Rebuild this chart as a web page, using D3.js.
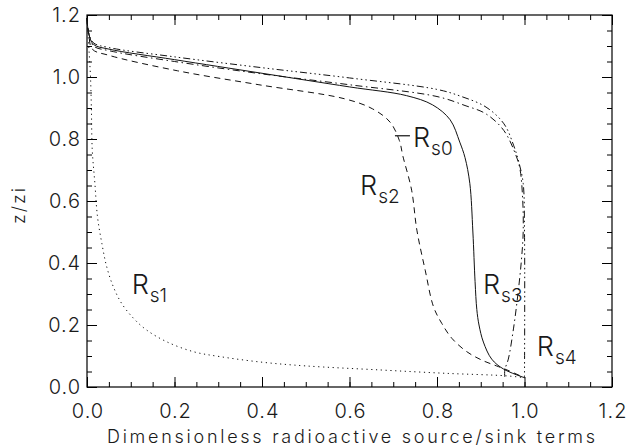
<!DOCTYPE html>
<html><head><meta charset="utf-8">
<script src="https://cdn.jsdelivr.net/npm/d3@7"></script>
<style>
html,body{margin:0;padding:0;background:#fff;}
svg{display:block;}
text{font-family:Inter,"DejaVu Sans",sans-serif;font-weight:300;fill:#1a1a1a;}
</style></head>
<body>
<svg id="chart" width="630" height="448"></svg>
<script>
// ---------- data ----------
const xMajor = [0, 0.2, 0.4, 0.6, 0.8, 1.0, 1.2];
const yMajor = [0, 0.2, 0.4, 0.6, 0.8, 1.0, 1.2];
const xMinor = d3.range(0, 1.2001, 0.05);
const yMinor = d3.range(0, 1.2001, 0.05);
const tickLabels = ["0.0", "0.2", "0.4", "0.6", "0.8", "1.0", "1.2"];
const xTitle = "Dimensionless radioactive source/sink terms";
const yTitle = "z/zi";

// Rs0 (solid)
const rs0X = [0, 0.004, 0.015, 0.05, 0.2, 0.4, 0.6, 0.73, 0.79, 0.83, 0.852, 0.864, 0.875, 0.882, 0.887, 0.891, 0.896, 0.906, 0.925, 0.952, 1.0];
const rs0Z = [1.19, 1.14, 1.105, 1.09, 1.056, 1.012, 0.968, 0.94, 0.91, 0.862, 0.79, 0.74, 0.657, 0.5, 0.34, 0.25, 0.2, 0.145, 0.09, 0.058, 0.03];
// Rs1 (dotted)
const rs1X = [0, 0.004, 0.008, 0.01, 0.012, 0.018, 0.024, 0.034, 0.045, 0.06, 0.079, 0.106, 0.136, 0.182, 0.243, 0.304, 0.4, 0.5, 0.67, 0.822, 0.959, 1.0];
const rs1Z = [1.19, 1.1, 1.0, 0.9, 0.765, 0.657, 0.549, 0.463, 0.388, 0.324, 0.27, 0.222, 0.184, 0.146, 0.114, 0.098, 0.08, 0.068, 0.055, 0.044, 0.036, 0.03];
// Rs2 (dashed)
const rs2X = [0, 0.004, 0.012, 0.05, 0.207, 0.393, 0.588, 0.653, 0.693, 0.714, 0.722, 0.742, 0.754, 0.773, 0.792, 0.811, 0.834, 0.868, 0.902, 0.936, 0.955, 1.0];
const rs2Z = [1.19, 1.14, 1.09, 1.07, 1.02, 0.975, 0.93, 0.897, 0.854, 0.795, 0.745, 0.635, 0.506, 0.377, 0.259, 0.205, 0.157, 0.114, 0.087, 0.068, 0.058, 0.03];
// Rs3 (dash-dot)
const rs3X = [0, 0.004, 0.015, 0.05, 0.2, 0.4, 0.6, 0.8, 0.864, 0.912, 0.953, 0.981, 0.99, 0.996, 0.997, 0.993, 0.985, 0.975, 0.963, 0.955, 0.955];
const rs3Z = [1.19, 1.14, 1.1, 1.085, 1.05, 1.01, 0.975, 0.937, 0.908, 0.881, 0.827, 0.745, 0.7, 0.6, 0.5, 0.41, 0.3, 0.19, 0.09, 0.055, 0.03];
// Rs4 (dash-triple-dot)
const rs4X = [0, 0.004, 0.015, 0.05, 0.2, 0.4, 0.6, 0.8, 0.856, 0.912, 0.953, 0.975, 0.988, 0.997, 1.0, 1.0];
const rs4Z = [1.19, 1.14, 1.11, 1.095, 1.065, 1.03, 0.997, 0.96, 0.937, 0.903, 0.849, 0.78, 0.72, 0.657, 0.5, 0.03];

const seriesNames = ["Rs0", "Rs1", "Rs2", "Rs3", "Rs4"];
const seriesX = [rs0X, rs1X, rs2X, rs3X, rs4X];
const seriesZ = [rs0Z, rs1Z, rs2Z, rs3Z, rs4Z];
const dashes = [null, "1.2,3.6", "6,4.5", "7,3.5,1.5,3.5", "7,3,1.5,3,1.5,3,1.5,3"];

// label anchors in data coords (start of "R", baseline)
const labelSub = ["s0", "s1", "s2", "s3", "s4"];
const labelX = [0.745, 0.102, 0.624, 0.905, 1.028];
const labelZ = [0.775, 0.3, 0.619, 0.3, 0.1];

// ---------- chart ----------
const svg = d3.select("#chart");
const x = d3.scaleLinear().domain([0, 1.2]).range([87, 612]);
const y = d3.scaleLinear().domain([0, 1.2]).range([387, 15]);
const fmt = d => tickLabels[xMajor.findIndex(v => Math.abs(v - d) < 1e-9)];

function styleAxis(g) {
  g.select(".domain").remove();
  g.selectAll("line").attr("stroke", "#000").attr("stroke-width", 1);
  g.attr("font-family", null).attr("font-size", null);
}
// minor ticks
svg.append("g").attr("transform", "translate(0,387)")
  .call(d3.axisBottom(x).tickValues(xMinor).tickSize(-5).tickFormat("")).call(styleAxis);
svg.append("g").attr("transform", "translate(0,15)")
  .call(d3.axisTop(x).tickValues(xMinor).tickSize(-5).tickFormat("")).call(styleAxis);
svg.append("g").attr("transform", "translate(87,0)")
  .call(d3.axisLeft(y).tickValues(yMinor).tickSize(-5).tickFormat("")).call(styleAxis);
svg.append("g").attr("transform", "translate(612,0)")
  .call(d3.axisRight(y).tickValues(yMinor).tickSize(-5).tickFormat("")).call(styleAxis);
// major ticks + labels
const gb = svg.append("g").attr("transform", "translate(0,387)")
  .call(d3.axisBottom(x).tickValues(xMajor).tickSize(-10).tickPadding(17).tickFormat(fmt)).call(styleAxis);
gb.selectAll("text").attr("font-size", 20).attr("letter-spacing", 1).attr("dx", "0.5").attr("fill", "#1a1a1a");
svg.append("g").attr("transform", "translate(0,15)")
  .call(d3.axisTop(x).tickValues(xMajor).tickSize(-10).tickFormat("")).call(styleAxis);
const gl = svg.append("g").attr("transform", "translate(87,0)")
  .call(d3.axisLeft(y).tickValues(yMajor).tickSize(-10).tickPadding(6).tickFormat(fmt)).call(styleAxis);
gl.selectAll("text").attr("font-size", 20).attr("letter-spacing", 1).attr("fill", "#1a1a1a");
svg.append("g").attr("transform", "translate(612,0)")
  .call(d3.axisRight(y).tickValues(yMajor).tickSize(-10).tickFormat("")).call(styleAxis);

// frame
svg.append("rect").attr("x", 87).attr("y", 15).attr("width", 525).attr("height", 372)
  .attr("fill", "none").attr("stroke", "#000").attr("stroke-width", 1.2);

// curves
const line = d3.line().x(d => x(d[0])).y(d => y(d[1])).curve(d3.curveCatmullRom.alpha(0.5));
seriesNames.forEach((name, i) => {
  const pts = seriesX[i].map((v, j) => [v, seriesZ[i][j]]);
  svg.append("path").datum(pts).attr("d", line)
    .attr("fill", "none").attr("stroke", "#111").attr("stroke-width", 1)
    .attr("stroke-dasharray", dashes[i]);
});

// leader dash for Rs0
svg.append("line")
  .attr("x1", x(labelX[0]) - 18).attr("x2", x(labelX[0]) - 3)
  .attr("y1", y(labelZ[0]) - 11).attr("y2", y(labelZ[0]) - 11)
  .attr("stroke", "#222").attr("stroke-width", 1.3);

// curve labels
seriesNames.forEach((name, i) => {
  const t = svg.append("text").attr("x", x(labelX[i])).attr("y", y(labelZ[i]))
    .attr("font-size", 27);
  t.append("tspan").text("R");
  t.append("tspan").attr("font-size", 19).attr("dy", 8).attr("dx", 1).text(labelSub[i]);
});

// axis titles
svg.append("text").attr("x", 351).attr("y", 443).attr("text-anchor", "middle")
  .attr("font-size", 18).attr("textLength", 488).attr("lengthAdjust", "spacing").text(xTitle);
svg.append("text").attr("transform", "translate(25,205) rotate(-90)").attr("text-anchor", "middle")
  .attr("font-size", 18).attr("letter-spacing", 2).text(yTitle);
</script>
</body></html>
